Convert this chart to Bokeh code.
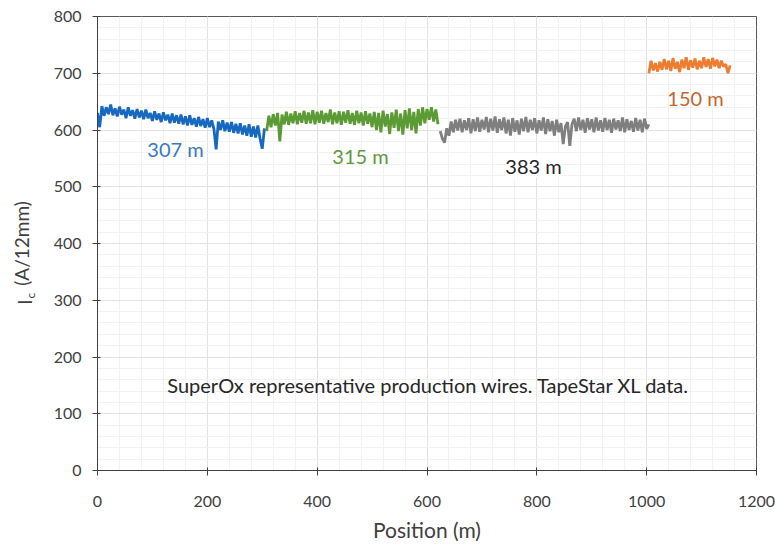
import math
from bokeh.plotting import figure
from bokeh.models import Range1d, FixedTicker, Label, ColumnDataSource
from bokeh.embed import file_html
from bokeh.resources import INLINE

# ---- data ----
step = 4
blue_start = 0
blue_ic = [630, 605, 642, 625, 640, 628, 645, 626, 638, 624, 641, 627, 636, 621, 640, 625,
           635, 620, 637, 622, 634, 619, 636, 621, 630, 616, 633, 618, 629, 614, 631, 617,
           627, 612, 629, 613, 626, 611, 627, 610, 624, 608, 626, 609, 621, 606, 623, 607,
           619, 604, 621, 605, 617, 602, 566, 615, 600, 617, 598, 613, 597, 614, 595, 611,
           594, 612, 592, 608, 590, 610, 588, 606, 587, 608, 585, 567, 603]
green_start = 308
green_ic = [598, 625, 605, 628, 608, 630, 580, 627, 610, 632, 609, 629, 612, 633, 610, 630,
            613, 634, 611, 631, 612, 635, 610, 632, 613, 634, 611, 630, 614, 636, 610, 631,
            612, 633, 609, 632, 613, 635, 611, 630, 609, 634, 612, 631, 608, 633, 611, 629,
            605, 632, 600, 630, 596, 634, 606, 628, 593, 631, 604, 636, 598, 629, 592, 635,
            603, 638, 600, 632, 594, 637, 608, 640, 612, 637, 618, 640, 615, 636, 610]
grey_start = 624
grey_ic = [598, 585, 578, 603, 590, 615, 596, 618, 599, 620, 596, 617, 600, 621, 594, 619,
           598, 622, 597, 618, 601, 623, 596, 620, 599, 624, 595, 619, 600, 622, 594, 618,
           590, 621, 597, 617, 592, 620, 598, 623, 596, 618, 600, 621, 594, 617, 599, 622,
           593, 619, 598, 616, 590, 618, 596, 612, 575, 606, 614, 572, 610, 620, 598, 622,
           600, 618, 595, 621, 601, 619, 596, 622, 599, 617, 597, 621, 600, 618, 595, 620,
           601, 617, 598, 622, 596, 619, 600, 616, 597, 621, 599, 618, 596, 620, 602, 610]
orange_start = 1004
orange_ic = [700, 722, 705, 718, 703, 720, 706, 725, 707, 722, 704, 727, 708, 720, 702, 724,
             709, 728, 706, 723, 710, 726, 707, 722, 709, 728, 711, 725, 708, 727, 712, 724,
             709, 722, 712, 716, 700, 714]

segments = [
    (blue_start, blue_ic, "#1769c0"),
    (green_start, green_ic, "#5c9a35"),
    (grey_start, grey_ic, "#7f7f7f"),
    (orange_start, orange_ic, "#ed7d31"),
]

seg_labels = ["307 m", "315 m", "383 m", "150 m"]
seg_label_x = [142, 479, 794, 1089]
seg_label_y = [567, 555, 537, 657]
seg_label_colors = ["#3b78bd", "#5f983e", "#262626", "#c4652e"]

note = "SuperOx representative production wires. TapeStar XL data."
x_ticks = [0, 200, 400, 600, 800, 1000, 1200]
y_ticks = [0, 100, 200, 300, 400, 500, 600, 700, 800]

FONT = "Lato"
TXT = "#404040"

p = figure(width=775, height=546, output_backend="svg", toolbar_location=None,
           x_range=Range1d(0, 1200), y_range=Range1d(0, 800),
           min_border_left=97, min_border_right=19, min_border_top=16, min_border_bottom=76)
p.background_fill_color = "white"
p.border_fill_color = "white"
p.outline_line_color = "#595959"
p.outline_line_width = 1

for start, vals, col in segments:
    xs = [start + step * i for i in range(len(vals))]
    src = ColumnDataSource(dict(x=xs, y=vals))
    p.line("x", "y", source=src, line_color=col, line_width=2.8, line_join="bevel")

# axes
for ax in (p.xaxis[0], p.yaxis[0]):
    ax.axis_line_color = "#404040"
    ax.major_tick_line_color = "#404040"
    ax.major_tick_out = 5
    ax.major_tick_in = 3
    ax.minor_tick_line_color = None
    ax.major_label_text_font = FONT
    ax.major_label_text_font_size = "16px"
    ax.major_label_text_color = TXT
    ax.major_label_standoff = 11
p.xaxis.major_label_standoff = 20

p.xaxis.ticker = FixedTicker(ticks=x_ticks, minor_ticks=list(range(0, 1201, 40)))
p.yaxis.ticker = FixedTicker(ticks=y_ticks, minor_ticks=list(range(0, 801, 20)))
p.xaxis.axis_label = "Position (m)"
p.xaxis.axis_label_text_font = FONT
p.xaxis.axis_label_text_font_size = "21px"
p.xaxis.axis_label_text_font_style = "normal"
p.xaxis.axis_label_text_color = TXT
p.xaxis.axis_label_standoff = 7

p.yaxis.axis_label = "(A/12mm)"
p.yaxis.axis_label_text_font = FONT
p.yaxis.axis_label_text_font_size = "19px"
p.yaxis.axis_label_text_font_style = "normal"
p.yaxis.axis_label_text_color = TXT
p.yaxis.axis_label_standoff = 18

p.xgrid.grid_line_color = "#e2e2e2"
p.ygrid.grid_line_color = "#e2e2e2"
p.xgrid.minor_grid_line_color = "#f2f2f2"
p.ygrid.minor_grid_line_color = "#f2f2f2"

# "I" with subscript "c" in front of the y axis label (small side panel, fits the top border)
p.add_layout(Label(x=0, y=292, x_offset=-73, text="I", angle=math.pi / 2,
                   text_font=FONT, text_font_size="19px", text_color=TXT,
                   text_align="left", text_baseline="middle"), "above")
p.add_layout(Label(x=0, y=303, x_offset=-67, text="c", angle=math.pi / 2,
                   text_font=FONT, text_font_size="12px", text_color=TXT,
                   text_align="left", text_baseline="middle"), "above")

for t, lx, ly, c in zip(seg_labels, seg_label_x, seg_label_y, seg_label_colors):
    p.add_layout(Label(x=lx, y=ly, text=t, text_font=FONT, text_font_size="20px",
                       text_color=c, text_align="center", text_baseline="middle",
                       background_fill_color="white" if t == "383 m" else None))

p.add_layout(Label(x=603, y=150, text=note, text_font=FONT, text_font_size="20px",
                   text_color="#262626", text_align="center", text_baseline="middle"))

open("out.html", "w").write(file_html(p, INLINE))
